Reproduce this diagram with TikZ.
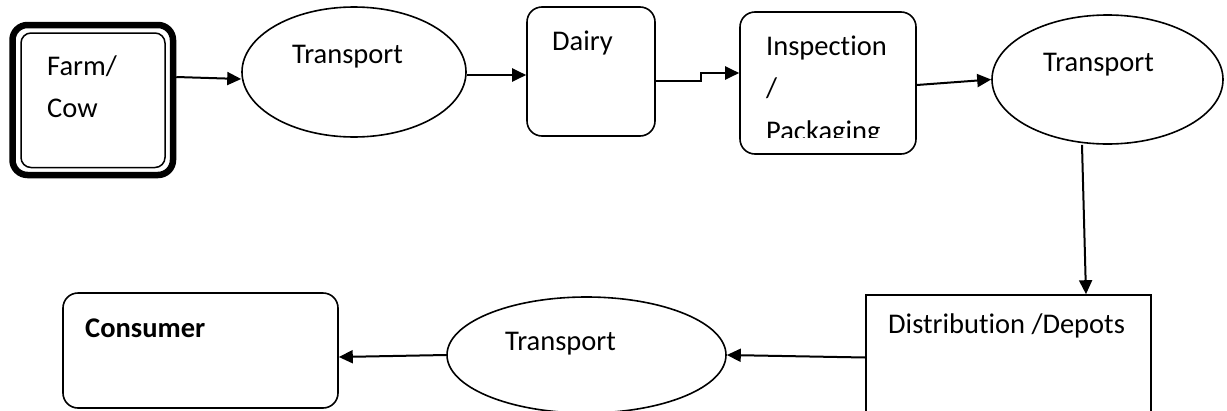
\documentclass[tikz,border=0pt]{standalone}
\usepackage{fontspec}
\setmainfont[Ligatures={NoCommon}]{Carlito}
\usetikzlibrary{arrows.meta,shapes.geometric}
\tikzset{
  shp/.style={draw, line width=1.6pt, inner sep=0pt, minimum width=#1},
  rbox/.style={shp=#1, rectangle, rounded corners=15pt},
  ell/.style={shp=#1, ellipse},
  lbl/.style={anchor=base west, inner sep=0pt, font=\fontsize{28.5}{42}\selectfont},
  conn/.style={line width=2pt, -{Triangle[length=14pt,width=13pt]}},
}
\begin{document}
\begin{tikzpicture}[x=1pt,y=-1pt]
\clip (0,0) rectangle (1227,410);
\useasboundingbox (0,0) rectangle (1227,410);
% shapes
\node[draw, line width=6.5pt, rounded corners=15pt, minimum width=160.5pt, minimum height=150pt, inner sep=0pt] (farm) at (92.75,100) {};
\node[draw, line width=1.5pt, rounded corners=10pt, minimum width=144pt, minimum height=134.5pt, inner sep=0pt, outer sep=0pt] (farmin) at (93,100.25) {};
\node[ell=224pt, minimum height=130pt] (t1) at (354,72) {};
\node[rbox=128pt, minimum height=129pt] (dairy) at (591,71.5) {};
\node[rbox=176pt, minimum height=142pt] (insp) at (828,83) {};
\node[ell=231pt, minimum height=129pt] (t2) at (1107.5,79.5) {};
\node[shp=285pt, rectangle, minimum height=125pt] (dist) at (1008.5,357.5) {};
\node[ell=279pt, minimum height=116pt] (t3) at (586.5,355) {};
\node[rbox=275pt, minimum height=115pt] (cons) at (200.5,350.5) {};
% labels
\node[lbl] (farmA) at (47,75) {Farm/};
\node[lbl] (farmB) at (47,117) {Cow};
\node[lbl] (t1l) at (292,63) {Transport};
\node[lbl] (dairyl) at (552,50) {Dairy};
\node[lbl] (inspA) at (766,55) {Inspection};
\node[lbl] (inspB) at (766,97) {/};
\begin{scope}
\clip (740,0) rectangle (916,137);
\node[lbl] (inspC) at (766,140) {Packaging};
\end{scope}
\node[lbl] (t2l) at (1043,71) {Transport};
\node[lbl] (distl) at (888,333) {Distribution /Depots};
\node[lbl] (t3l) at (505,350) {Transport};
\node[lbl, font=\fontsize{28.5}{42}\selectfont\bfseries] (consl) at (85,337) {Consumer};
% connectors
\draw[conn] ([yshift=23pt]farm.east) -- ([yshift=-7pt]t1.west);
\draw[conn] ([yshift=-3pt]t1.east) -- ([yshift=-3.5pt]dairy.west);
\draw[conn] ([yshift=-9.5pt]dairy.east) -- ++(45,0) |- ([yshift=10pt]insp.west);
\draw[conn] ([yshift=-2pt]insp.east) -- (t2.west);
\draw[conn] ([xshift=-25.5pt]t2.south) -- ([xshift=77.5pt]dist.north);
\draw[conn] (dist.west) -- (t3.east);
\draw[conn] (t3.west) -- ([yshift=-6.5pt]cons.east);
\end{tikzpicture}
\end{document}
